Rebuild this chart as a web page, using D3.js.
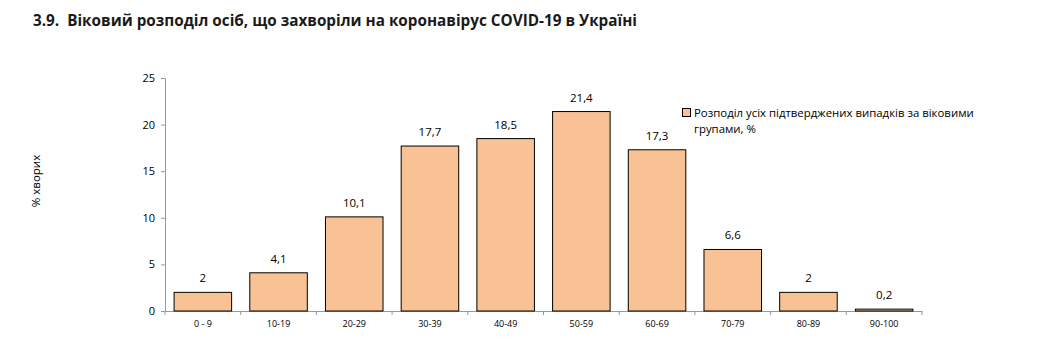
<!DOCTYPE html>
<html><head><meta charset="utf-8">
<script src="https://cdn.jsdelivr.net/npm/d3@7/dist/d3.min.js"></script>
<style>body{margin:0;background:#fff}svg{display:block}text{font-family:"Open Sans","Liberation Sans",sans-serif}</style>
</head><body><svg id="c" width="1043" height="355"></svg>
<script>
const categories = ["0 - 9","10-19","20-29","30-39","40-49","50-59","60-69","70-79","80-89","90-100"];
const values = [2, 4.1, 10.1, 17.7, 18.5, 21.4, 17.3, 6.6, 2, 0.2];
const yTicks = [0,5,10,15,20,25];
const title = "3.9.  Віковий розподіл осіб, що захворіли на коронавірус COVID-19 в Україні";
const yTitle = "% хворих";
const legendLines = ["Розподіл усіх підтверджених випадків за віковими","групами, %"];

const svg = d3.select("#c");
const x = d3.scaleBand().domain(categories).range([165, 922]).paddingInner(0.24).paddingOuter(0.12);
const y = d3.scaleLinear().domain([0,25]).range([311, 78]);

svg.append("text").attr("x",33).attr("y",26).attr("font-size",15.5).attr("font-weight","bold")
  .style("white-space","pre")
  .attr("fill","#1a1a1a").attr("textLength",604).attr("lengthAdjust","spacingAndGlyphs").text(title);

// y axis
const ya = svg.append("g").attr("transform","translate(165,0)")
  .call(d3.axisLeft(y).tickValues(yTicks).tickSize(4).tickPadding(6));
ya.select(".domain").attr("stroke","#999");
ya.selectAll(".tick line").attr("stroke","#999");
ya.selectAll("text").attr("font-size",11).attr("fill","#000").attr("font-family","'Open Sans',sans-serif");

// x axis
const xa = svg.append("g").attr("transform","translate(0,311)")
  .call(d3.axisBottom(x).tickSize(0).tickPadding(10));
xa.select(".domain").attr("stroke","#999");
xa.selectAll("text").attr("font-size",9).attr("fill","#000");
// separator ticks between bands
const bounds = d3.range(categories.length+1).map(i => 165 + i*(922-165)/categories.length);
svg.append("g").selectAll("line").data(bounds).join("line")
  .attr("x1",d=>d).attr("x2",d=>d).attr("y1",311).attr("y2",315).attr("stroke","#999");

// bars
svg.append("g").selectAll("rect").data(values).join("rect")
  .attr("x",(d,i)=>x(categories[i])).attr("width",x.bandwidth())
  .attr("y",d=>y(d)).attr("height",d=>y(0)-y(d))
  .attr("fill","#F9C294").attr("stroke","#000").attr("stroke-width",1);

// value labels
svg.append("g").selectAll("text").data(values).join("text")
  .attr("x",(d,i)=>x(categories[i])+x.bandwidth()/2).attr("y",d=>y(d)-10)
  .attr("text-anchor","middle").attr("font-size",11.5).attr("fill","#000")
  .text(d=>String(d).replace(".",","));

// y title
svg.append("text").attr("transform","translate(40,181) rotate(-90)").attr("text-anchor","middle")
  .attr("font-size",11.5).attr("fill","#000").text(yTitle);

// legend
svg.append("rect").attr("x",682.5).attr("y",108.5).attr("width",8).attr("height",8)
  .attr("fill","#F9C294").attr("stroke","#000").attr("stroke-width",1);
svg.append("g").selectAll("text").data(legendLines).join("text")
  .attr("x",694).attr("y",(d,i)=>117+i*16).attr("font-size",11.4).attr("fill","#000").text(d=>d);
</script></body></html>
